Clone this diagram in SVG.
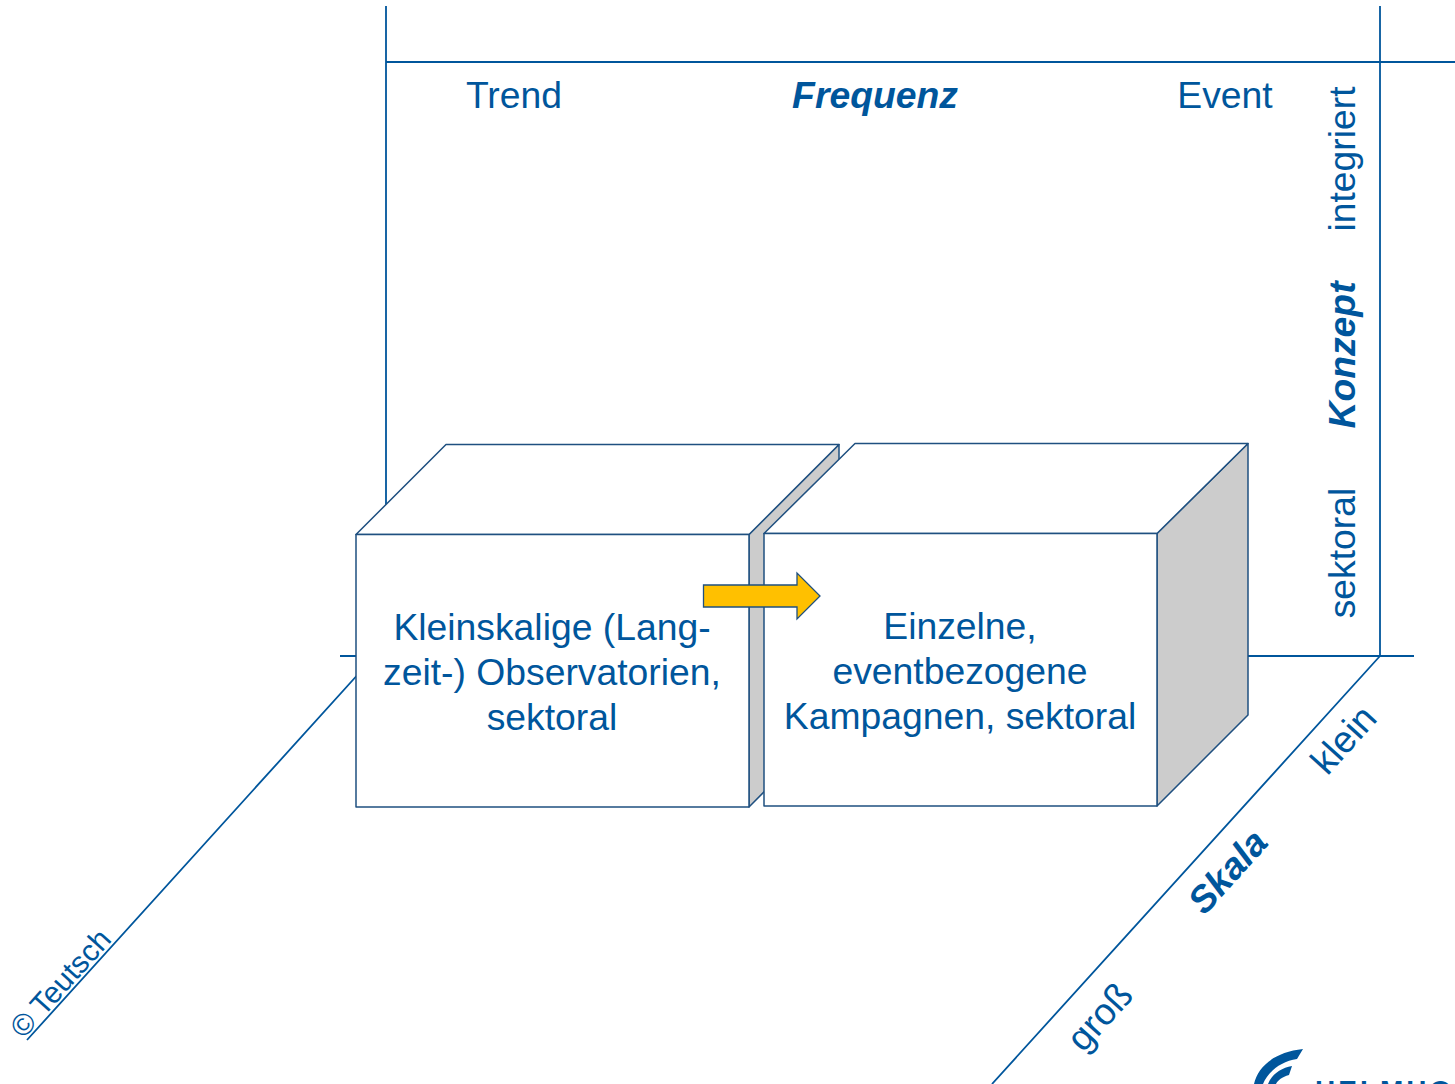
<svg xmlns="http://www.w3.org/2000/svg" width="1455" height="1084" viewBox="0 0 1455 1084">
<style>
text{font-family:"Liberation Sans",Arial,sans-serif;fill:#00569c;font-size:37.3px}
.b{font-weight:700;font-style:italic}
.m{text-anchor:middle}
.ax{fill:none;stroke:#00569c;stroke-width:1.8}
.f{fill:#fff;stroke:#1f5080;stroke-width:1.5;stroke-linejoin:round}
.s{fill:#cccccc;stroke:#1f5080;stroke-width:1.5;stroke-linejoin:round}
</style>
<rect width="1455" height="1084" fill="#fff"/>
<g id="connectors">
<path class="ax" d="M386 6V530M386 62H1455M1380 6V656M340 656H1414M1380 656L992 1084M380 650L27 1040"/>
</g>
<g id="labels">
<text x="514" y="108" class="m">Trend</text>
<text x="875" y="108" class="m b">Frequenz</text>
<text x="1225" y="108" class="m">Event</text>
<text transform="translate(1355,159) rotate(-90)" class="m">integriert</text>
<text transform="translate(1355,355) rotate(-90)" class="m b">Konzept</text>
<text transform="translate(1355,553) rotate(-90)" class="m">sektoral</text>
<text transform="translate(1353,748) rotate(-48)" class="m">klein</text>
<text transform="translate(1237,880) rotate(-48)" class="m b">Skala</text>
<text transform="translate(1109,1025) rotate(-48)" class="m">groß</text>
<text transform="translate(68,990) rotate(-48)" class="m" style="font-size:30px">© Teutsch</text>
</g>
<g id="box-left">
<path class="s" d="M749 534.500L839 444.500V716L749 807Z"/>
<path class="f" d="M356 534.500L446 444.500H839L749 534.500Z"/>
<rect class="f" x="356" y="534.500" width="393" height="272.500"/>
<text class="m" x="552" y="640">Kleinskalige (Lang-</text>
<text class="m" x="552" y="685">zeit-) Observatorien,</text>
<text class="m" x="552" y="730">sektoral</text>
</g>
<g id="box-right">
<path class="s" d="M1157 533.500L1248 443.500V715L1157 806Z"/>
<path class="f" d="M764 533.500L855 443.500H1248L1157 533.500Z"/>
<rect class="f" x="764" y="533.500" width="393" height="272.500"/>
<text class="m" x="960" y="639">Einzelne,</text>
<text class="m" x="960" y="684">eventbezogene</text>
<text class="m" x="960" y="729">Kampagnen, sektoral</text>
</g>
<g id="arrow">
<path d="M703.500 585H797V573L820 596L797 619V607H703.500Z" fill="#ffc000" stroke="#1f5080" stroke-width="1.3"/>
</g>
<g id="logo">
<path d="M1254 1084C1258 1066 1275 1052 1303 1049L1297 1059C1281 1061 1268 1072 1263 1084Z" fill="#00569c"/>
<path d="M1268 1084C1272 1074 1281 1068 1292 1066L1289 1075C1282 1077 1278 1080 1276 1084Z" fill="#00569c"/>
<text x="1315" y="1100" style="font-size:28px;font-weight:700;letter-spacing:3px">HELMHO</text>
</g>
</svg>
